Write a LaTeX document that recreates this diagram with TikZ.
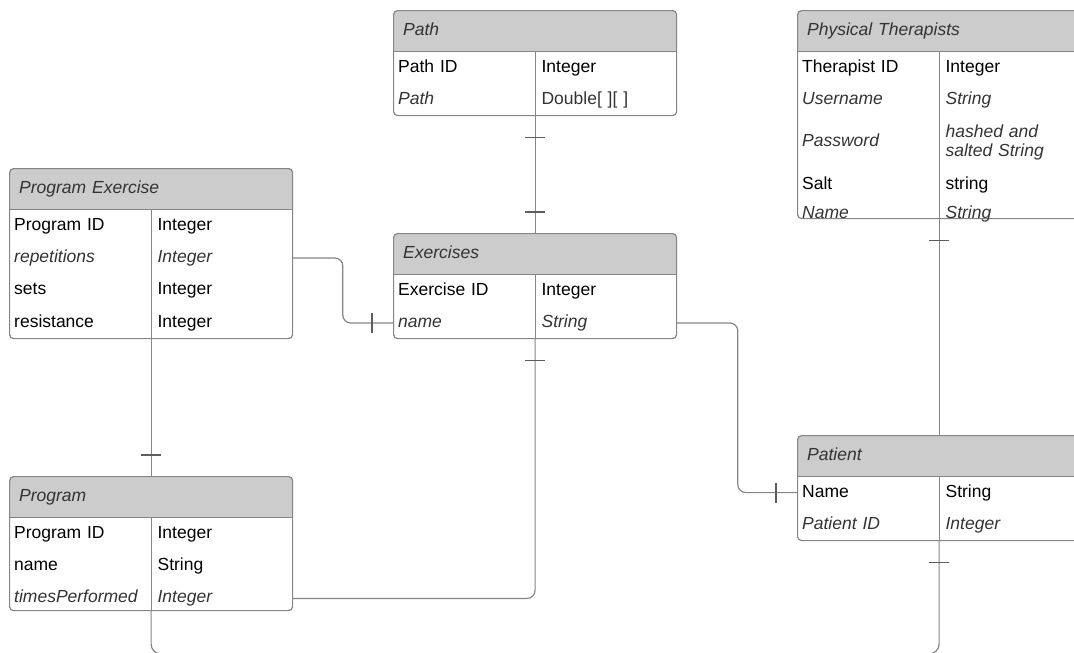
\documentclass[tikz,border=0pt]{standalone}
\usepackage{fontspec}
\setmainfont{Liberation Sans}
\usepackage{tikz}
\usetikzlibrary{positioning,decorations.markings}
\definecolor{linegray}{HTML}{858585}
\definecolor{headgray}{HTML}{CCCCCC}
\definecolor{textgray}{HTML}{333333}

\begin{document}
\begin{tikzpicture}[
    x=1pt, y=-1pt,
    every node/.style={font=\fontsize{17.5}{19}\selectfont},
    entity/.style={rectangle, draw=linegray, line width=1.2pt, rounded corners=4pt, anchor=north west,
        minimum width=283pt, inner sep=0pt,
        path picture={
            \fill[headgray, sharp corners] (path picture bounding box.north west) rectangle ([yshift=-41pt]path picture bounding box.north east);
            \draw[linegray, line width=1.2pt, sharp corners] ([yshift=-41pt]path picture bounding box.north west) -- ([yshift=-41pt]path picture bounding box.north east);
            \draw[linegray, line width=1.2pt, sharp corners] ([xshift=142pt,yshift=-41pt]path picture bounding box.north west) -- ([xshift=142pt]path picture bounding box.south west);
        }},
    headtext/.style={anchor=north west, text width=263pt, inner xsep=10pt, inner ysep=0pt, minimum height=41pt,
        align=left, text height=13pt, text depth=4pt, font=\fontsize{17.5}{19}\selectfont\itshape, text=textgray},
    keycell/.style={anchor=north west, text width=132pt, inner xsep=5pt, inner ysep=0pt, minimum height=32pt,
        align=left, text height=13pt, text depth=4pt},
    typecell/.style={anchor=north west, text width=129pt, inner xsep=6pt, inner ysep=0pt, minimum height=32pt,
        align=left, text height=13pt, text depth=4pt},
    ital/.style={font=\fontsize{17.5}{19}\selectfont\itshape, text=textgray},
    rel/.style={draw=linegray, line width=1.2pt},
    tick/.style={draw=linegray!70!black, line width=1.2pt},
    onestart/.style={postaction={decorate, decoration={markings,
        mark=at position 21pt with {\draw[tick] (0pt,-10pt) -- (0pt,10pt);}}}},
    oneend/.style={postaction={decorate, decoration={markings,
        mark=at position -21pt with {\draw[tick] (0pt,-10pt) -- (0pt,10pt);}}}}
]
\useasboundingbox (0,0) rectangle (1074,653);
\clip (0,0) rectangle (1074,653);

% Path
\node[entity, minimum height=105pt] (path) at (393,10) {};
\node[headtext] (pathhead) at (path.north west) {Path};
\node[keycell] (pathk1) at (pathhead.south west) {Path ID};
\node[typecell] (patht1) at (pathk1.north east) {Integer};
\node[keycell, ital] (pathk2) at (pathk1.south west) {Path};
\node[typecell, text=textgray] (patht2) at (pathk2.north east) {Double[ ][ ]};

% Physical Therapists
\node[entity, minimum height=208pt] (therapists) at (797,10) {};
\node[headtext] (thhead) at (therapists.north west) {Physical Therapists};
\node[keycell] (thk1) at (thhead.south west) {Therapist ID};
\node[typecell] (tht1) at (thk1.north east) {Integer};
\node[keycell, ital] (thk2) at (thk1.south west) {Username};
\node[typecell, ital] (tht2) at (thk2.north east) {String};
\node[keycell, ital, minimum height=52pt] (thk3) at (thk2.south west) {Password};
\node[typecell, ital, minimum height=52pt, text height={}, text depth={}] (tht3) at (thk3.north east) {hashed and\\salted String};
\node[keycell] (thk4) at (thk3.south west) {Salt};
\node[typecell] (tht4) at (thk4.north east) {string};
\node[keycell, ital, minimum height=26pt] (thk5) at (thk4.south west) {Name};
\node[typecell, ital, minimum height=26pt] (tht5) at (thk5.north east) {String};

% Program Exercise
\node[entity, minimum height=170pt] (progex) at (9,168) {};
\node[headtext] (pehead) at (progex.north west) {Program Exercise};
\node[keycell] (pek1) at (pehead.south west) {Program ID};
\node[typecell] (pet1) at (pek1.north east) {Integer};
\node[keycell, ital] (pek2) at (pek1.south west) {repetitions};
\node[typecell, ital] (pet2) at (pek2.north east) {Integer};
\node[keycell] (pek3) at (pek2.south west) {sets};
\node[typecell] (pet3) at (pek3.north east) {Integer};
\node[keycell] (pek4) at (pek3.south west) {resistance};
\node[typecell] (pet4) at (pek4.north east) {Integer};

% Exercises
\node[entity, minimum height=105pt] (exercises) at (393,233) {};
\node[headtext] (exhead) at (exercises.north west) {Exercises};
\node[keycell] (exk1) at (exhead.south west) {Exercise ID};
\node[typecell] (ext1) at (exk1.north east) {Integer};
\node[keycell, ital] (exk2) at (exk1.south west) {name};
\node[typecell, ital] (ext2) at (exk2.north east) {String};

% Program
\node[entity, minimum height=134pt] (program) at (9,476) {};
\node[headtext] (prhead) at (program.north west) {Program};
\node[keycell] (prk1) at (prhead.south west) {Program ID};
\node[typecell] (prt1) at (prk1.north east) {Integer};
\node[keycell] (prk2) at (prk1.south west) {name};
\node[typecell] (prt2) at (prk2.north east) {String};
\node[keycell, ital] (prk3) at (prk2.south west) {timesPerformed};
\node[typecell, ital] (prt3) at (prk3.north east) {Integer};

% Patient
\node[entity, minimum height=105pt] (patient) at (797,435) {};
\node[headtext] (pahead) at (patient.north west) {Patient};
\node[keycell] (pak1) at (pahead.south west) {Name};
\node[typecell] (pat1) at (pak1.north east) {String};
\node[keycell, ital] (pak2) at (pak1.south west) {Patient ID};
\node[typecell, ital] (pat2) at (pak2.north east) {Integer};

% relations
\draw[rel, onestart, oneend] (path.south) -- (exercises.north);
\draw[rel, onestart] (therapists.south) -- (patient.north);
\draw[rel, oneend] (progex.south) -- (program.north);
\draw[rel, oneend, rounded corners=8pt] (pet2.east) -- ++(50,0) |- (exk2.west);
\draw[rel, oneend, rounded corners=8pt] (ext2.east) -- ++(61,0) |- (pak1.west);
\draw[rel, onestart, rounded corners=8pt] (exercises.south) |- (prt3.east);
\coordinate (under) at (0,654);
\draw[rel, oneend, rounded corners=10pt] (program.south) -- (program.south |- under) -- (patient.south |- under) -- (patient.south);

\end{tikzpicture}
\end{document}
